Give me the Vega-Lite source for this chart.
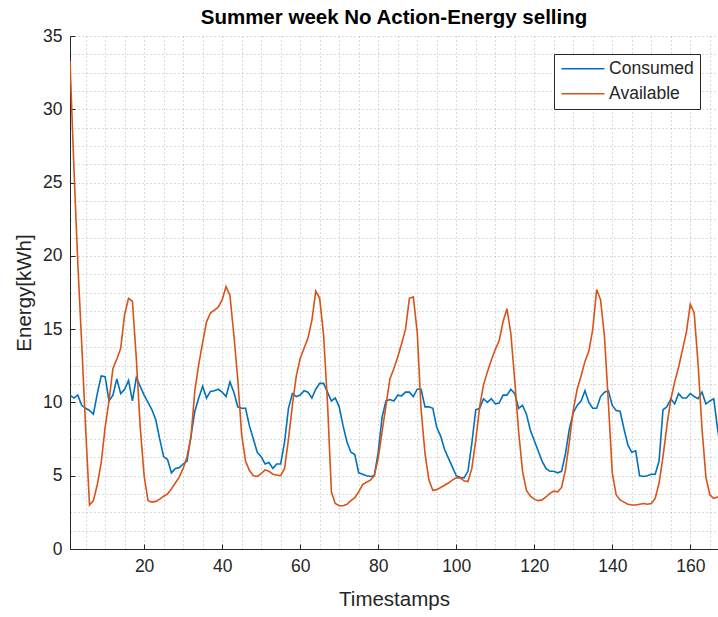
{
  "$schema": "https://vega.github.io/schema/vega-lite/v6.json",
  "width": 648,
  "height": 513,
  "autosize": {"type": "none"},
  "padding": {"left": 70, "top": 36, "right": 0, "bottom": 68},
  "background": "white",
  "title": {"text": "Summer week No Action-Energy selling", "anchor": "middle", "frame": "group", "font": "Liberation Sans", "fontSize": 20.5, "fontWeight": "bold", "color": "#000000", "offset": -1},
  "data": {"values": [
    {"t":1,"Consumed":10.5,"Available":33.3},{"t":2,"Consumed":10.3,"Available":26},{"t":3,"Consumed":10.5,"Available":19.5},{"t":4,"Consumed":9.8,"Available":14},{"t":5,"Consumed":9.6,"Available":8.3},{"t":6,"Consumed":9.45,"Available":3.0},{"t":7,"Consumed":9.2,"Available":3.3},{"t":8,"Consumed":10.6,"Available":4.4},{"t":9,"Consumed":11.8,"Available":5.9},{"t":10,"Consumed":11.75,"Available":8.3},
    {"t":11,"Consumed":10.1,"Available":10.1},{"t":12,"Consumed":10.5,"Available":12.3},{"t":13,"Consumed":11.6,"Available":12.96},{"t":14,"Consumed":10.6,"Available":13.7},{"t":15,"Consumed":10.9,"Available":16.0},{"t":16,"Consumed":11.5,"Available":17.1},{"t":17,"Consumed":10.1,"Available":16.9},{"t":18,"Consumed":11.7,"Available":13.0},{"t":19,"Consumed":11.1,"Available":8.3},{"t":20,"Consumed":10.5,"Available":5.0},
    {"t":21,"Consumed":10.0,"Available":3.3},{"t":22,"Consumed":9.5,"Available":3.2},{"t":23,"Consumed":8.8,"Available":3.25},{"t":24,"Consumed":7.5,"Available":3.4},{"t":25,"Consumed":6.3,"Available":3.6},{"t":26,"Consumed":6.1,"Available":3.75},{"t":27,"Consumed":5.2,"Available":4.1},{"t":28,"Consumed":5.5,"Available":4.5},{"t":29,"Consumed":5.55,"Available":4.9},{"t":30,"Consumed":5.8,"Available":5.5},
    {"t":31,"Consumed":6.0,"Available":6.3},{"t":32,"Consumed":7.7,"Available":7.6},{"t":33,"Consumed":9.4,"Available":10.8},{"t":34,"Consumed":10.3,"Available":12.6},{"t":35,"Consumed":11.1,"Available":14.1},{"t":36,"Consumed":10.3,"Available":15.5},{"t":37,"Consumed":10.75,"Available":16.1},{"t":38,"Consumed":10.8,"Available":16.3},{"t":39,"Consumed":10.9,"Available":16.5},{"t":40,"Consumed":10.7,"Available":17.0},
    {"t":41,"Consumed":10.4,"Available":17.9},{"t":42,"Consumed":11.4,"Available":17.3},{"t":43,"Consumed":10.7,"Available":14.6},{"t":44,"Consumed":9.7,"Available":11.6},{"t":45,"Consumed":9.6,"Available":7.8},{"t":46,"Consumed":9.6,"Available":6.0},{"t":47,"Consumed":8.4,"Available":5.35},{"t":48,"Consumed":7.5,"Available":5.0},{"t":49,"Consumed":6.6,"Available":4.95},{"t":50,"Consumed":6.3,"Available":5.15},
    {"t":51,"Consumed":5.8,"Available":5.4},{"t":52,"Consumed":5.9,"Available":5.3},{"t":53,"Consumed":5.5,"Available":5.1},{"t":54,"Consumed":5.8,"Available":5.05},{"t":55,"Consumed":5.8,"Available":5.0},{"t":56,"Consumed":7.3,"Available":5.5},{"t":57,"Consumed":9.6,"Available":7.5},{"t":58,"Consumed":10.6,"Available":9.8},{"t":59,"Consumed":10.4,"Available":11.8},{"t":60,"Consumed":10.5,"Available":13.0},
    {"t":61,"Consumed":10.8,"Available":13.7},{"t":62,"Consumed":10.7,"Available":14.4},{"t":63,"Consumed":10.3,"Available":15.6},{"t":64,"Consumed":10.9,"Available":17.6},{"t":65,"Consumed":11.3,"Available":17.1},{"t":66,"Consumed":11.3,"Available":14.6},{"t":67,"Consumed":10.7,"Available":10.0},{"t":68,"Consumed":10.1,"Available":3.9},{"t":69,"Consumed":10.3,"Available":3.1},{"t":70,"Consumed":9.7,"Available":2.95},
    {"t":71,"Consumed":8.4,"Available":2.95},{"t":72,"Consumed":7.3,"Available":3.05},{"t":73,"Consumed":6.6,"Available":3.3},{"t":74,"Consumed":6.45,"Available":3.5},{"t":75,"Consumed":5.2,"Available":3.9},{"t":76,"Consumed":5.1,"Available":4.4},{"t":77,"Consumed":5.0,"Available":4.55},{"t":78,"Consumed":4.95,"Available":4.7},{"t":79,"Consumed":5.0,"Available":5.0},{"t":80,"Consumed":6.6,"Available":6.2},
    {"t":81,"Consumed":9.0,"Available":8.0},{"t":82,"Consumed":10.1,"Available":9.8},{"t":83,"Consumed":10.2,"Available":11.6},{"t":84,"Consumed":10.1,"Available":12.3},{"t":85,"Consumed":10.5,"Available":13.1},{"t":86,"Consumed":10.45,"Available":14.0},{"t":87,"Consumed":10.7,"Available":15.0},{"t":88,"Consumed":10.7,"Available":17.1},{"t":89,"Consumed":10.4,"Available":17.2},{"t":90,"Consumed":10.9,"Available":14.8},
    {"t":91,"Consumed":10.9,"Available":9.5},{"t":92,"Consumed":9.7,"Available":6.5},{"t":93,"Consumed":9.7,"Available":4.7},{"t":94,"Consumed":9.6,"Available":4.0},{"t":95,"Consumed":8.3,"Available":4.05},{"t":96,"Consumed":7.7,"Available":4.2},{"t":97,"Consumed":6.8,"Available":4.35},{"t":98,"Consumed":6.2,"Available":4.5},{"t":99,"Consumed":5.6,"Available":4.7},{"t":100,"Consumed":5.0,"Available":4.85},
    {"t":101,"Consumed":4.9,"Available":4.85},{"t":102,"Consumed":4.85,"Available":4.65},{"t":103,"Consumed":5.3,"Available":4.6},{"t":104,"Consumed":7.2,"Available":5.5},{"t":105,"Consumed":9.5,"Available":7.4},{"t":106,"Consumed":9.6,"Available":9.7},{"t":107,"Consumed":10.25,"Available":11.2},{"t":108,"Consumed":10.0,"Available":12.1},{"t":109,"Consumed":10.25,"Available":12.9},{"t":110,"Consumed":9.9,"Available":13.6},
    {"t":111,"Consumed":9.95,"Available":14.2},{"t":112,"Consumed":10.5,"Available":15.5},{"t":113,"Consumed":10.5,"Available":16.4},{"t":114,"Consumed":10.9,"Available":14.7},{"t":115,"Consumed":10.6,"Available":11.5},{"t":116,"Consumed":9.6,"Available":8.0},{"t":117,"Consumed":9.8,"Available":5.3},{"t":118,"Consumed":9.2,"Available":4.0},{"t":119,"Consumed":8.1,"Available":3.6},{"t":120,"Consumed":7.4,"Available":3.4},
    {"t":121,"Consumed":6.7,"Available":3.3},{"t":122,"Consumed":6.0,"Available":3.35},{"t":123,"Consumed":5.5,"Available":3.55},{"t":124,"Consumed":5.3,"Available":3.8},{"t":125,"Consumed":5.3,"Available":3.95},{"t":126,"Consumed":5.2,"Available":3.9},{"t":127,"Consumed":5.3,"Available":4.2},{"t":128,"Consumed":6.5,"Available":5.4},{"t":129,"Consumed":8.2,"Available":7.3},{"t":130,"Consumed":9.3,"Available":9.5},
    {"t":131,"Consumed":9.8,"Available":10.9},{"t":132,"Consumed":10.1,"Available":11.8},{"t":133,"Consumed":10.8,"Available":12.8},{"t":134,"Consumed":10.0,"Available":13.5},{"t":135,"Consumed":9.6,"Available":15.0},{"t":136,"Consumed":9.6,"Available":17.7},{"t":137,"Consumed":10.4,"Available":17.0},{"t":138,"Consumed":10.7,"Available":14.5},{"t":139,"Consumed":10.8,"Available":10.0},{"t":140,"Consumed":9.8,"Available":5.2},
    {"t":141,"Consumed":9.45,"Available":3.7},{"t":142,"Consumed":9.4,"Available":3.35},{"t":143,"Consumed":8.2,"Available":3.2},{"t":144,"Consumed":7.1,"Available":3.05},{"t":145,"Consumed":6.6,"Available":3.0},{"t":146,"Consumed":6.7,"Available":3.0},{"t":147,"Consumed":5.0,"Available":3.05},{"t":148,"Consumed":4.95,"Available":3.1},{"t":149,"Consumed":5.0,"Available":3.05},{"t":150,"Consumed":5.1,"Available":3.1},
    {"t":151,"Consumed":5.1,"Available":3.45},{"t":152,"Consumed":6.0,"Available":4.5},{"t":153,"Consumed":9.5,"Available":6.3},{"t":154,"Consumed":9.7,"Available":8.4},{"t":155,"Consumed":10.25,"Available":10.2},{"t":156,"Consumed":9.9,"Available":11.4},{"t":157,"Consumed":10.6,"Available":12.4},{"t":158,"Consumed":10.3,"Available":13.6},{"t":159,"Consumed":10.3,"Available":14.8},{"t":160,"Consumed":10.6,"Available":16.7},
    {"t":161,"Consumed":10.4,"Available":16.1},{"t":162,"Consumed":10.25,"Available":12.6},{"t":163,"Consumed":10.7,"Available":8.2},{"t":164,"Consumed":9.9,"Available":4.9},{"t":165,"Consumed":10.1,"Available":3.7},{"t":166,"Consumed":10.25,"Available":3.45},{"t":167,"Consumed":8.2,"Available":3.55},{"t":168,"Consumed":6.5,"Available":3.6}
  ]},
  "transform": [{"fold": ["Consumed", "Available"], "as": ["series", "value"]}],
  "layer": [
    {
      "mark": {"type": "point", "opacity": 0},
      "encoding": {
        "x": {"field": "t", "type": "quantitative", "scale": {"domain": [1, 167.1], "nice": false, "zero": false},
              "axis": {"orient": "bottom", "values": [5,10,15,20,25,30,35,40,45,50,55,60,65,70,75,80,85,90,95,100,105,110,115,120,125,130,135,140,145,150,155,160,165], "grid": true, "gridDash": [1, 3], "gridColor": "#b4b4b4", "gridWidth": 1, "labels": false, "ticks": false, "domain": false, "title": null}},
        "y": {"field": "value", "type": "quantitative", "scale": {"domain": [0, 35], "nice": false, "zero": false},
              "axis": {"orient": "left", "values": [0,1.25,2.5,3.75,5,6.25,7.5,8.75,10,11.25,12.5,13.75,15,16.25,17.5,18.75,20,21.25,22.5,23.75,25,26.25,27.5,28.75,30,31.25,32.5,33.75,35], "grid": true, "gridDash": [1, 3], "gridColor": "#b4b4b4", "gridWidth": 1, "labels": false, "ticks": false, "domain": false, "title": null}}
      }
    },
    {
      "mark": {"type": "point", "opacity": 0},
      "encoding": {
        "x": {"field": "t", "type": "quantitative", "scale": {"domain": [1, 167.1], "nice": false, "zero": false},
              "axis": {"orient": "bottom", "values": [20,40,60,80,100,120,140,160], "grid": false, "labels": false, "ticks": true, "tickSize": -5, "tickColor": "#262626", "tickWidth": 1, "domain": false, "title": null}},
        "y": {"field": "value", "type": "quantitative", "scale": {"domain": [0, 35], "nice": false, "zero": false},
              "axis": {"orient": "left", "values": [0,5,10,15,20,25,30,35], "grid": false, "labels": false, "ticks": true, "tickSize": -5, "tickColor": "#262626", "tickWidth": 1, "domain": false, "title": null}}
      }
    },
    {
      "transform": [{"filter": {"field": "series", "equal": "Consumed"}}],
      "mark": {"type": "line", "strokeWidth": 1.6, "clip": true},
      "encoding": {
        "x": {"field": "t", "type": "quantitative", "scale": {"domain": [1, 167.1], "nice": false, "zero": false},
              "axis": {"orient": "bottom", "values": [20,40,60,80,100,120,140,160], "grid": false, "ticks": false, "labelPadding": 8, "labelFontSize": 17.5, "labelColor": "#262626", "labelFont": "Liberation Sans", "domainColor": "#262626", "domainWidth": 1, "title": "Timestamps", "titleFont": "Liberation Sans", "titleFontSize": 20.5, "titleFontWeight": "normal", "titleColor": "#262626", "titlePadding": 15}},
        "y": {"field": "value", "type": "quantitative", "scale": {"domain": [0, 35], "nice": false, "zero": false},
              "axis": {"orient": "left", "values": [0,5,10,15,20,25,30,35], "grid": false, "ticks": false, "labelPadding": 8, "labelFontSize": 17.5, "labelColor": "#262626", "labelFont": "Liberation Sans", "domainColor": "#262626", "domainWidth": 1, "title": "Energy[kWh]", "titleFont": "Liberation Sans", "titleFontSize": 20.5, "titleFontWeight": "normal", "titleColor": "#262626", "titlePadding": 8}},
        "color": {"field": "series", "type": "nominal",
                  "scale": {"domain": ["Consumed", "Available"], "range": ["#0072BD", "#D95319"]},
                  "legend": {"title": null, "orient": "none", "legendX": 484, "legendY": 18, "symbolType": "M-5,0H5", "symbolSize": 74, "symbolOffset": 14.2, "symbolStrokeWidth": 1.6, "labelFontSize": 17.5, "labelFont": "Liberation Sans", "labelColor": "#262626", "labelOffset": 17.4, "strokeColor": "#262626", "fillColor": "#ffffff", "padding": 6, "rowPadding": 6}}
      }
    },
    {
      "transform": [{"filter": {"field": "series", "equal": "Available"}}],
      "mark": {"type": "line", "strokeWidth": 1.6, "clip": true},
      "encoding": {
        "x": {"field": "t", "type": "quantitative", "scale": {"domain": [1, 167.1], "nice": false, "zero": false}, "axis": null},
        "y": {"field": "value", "type": "quantitative", "scale": {"domain": [0, 35], "nice": false, "zero": false}, "axis": null},
        "color": {"field": "series", "type": "nominal", "scale": {"domain": ["Consumed", "Available"], "range": ["#0072BD", "#D95319"]}}
      }
    }
  ],
  "resolve": {"axis": {"x": "independent", "y": "independent"}},
  "config": {"view": {"stroke": null}, "font": "Liberation Sans"}
}
